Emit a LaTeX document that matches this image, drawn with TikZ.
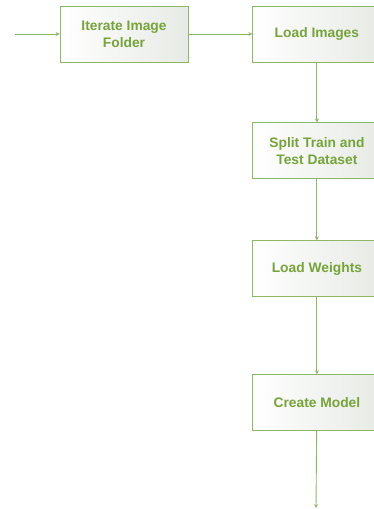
\documentclass[tikz,border=0pt]{standalone}
\usepackage{fontspec}
\setmainfont{Liberation Sans}
\usetikzlibrary{positioning, arrows.meta}
\definecolor{boxgreen}{RGB}{140,184,104}
\definecolor{textgreen}{RGB}{118,164,58}
\definecolor{fillgray}{RGB}{230,234,228}

\begin{document}
\begin{tikzpicture}[
        x=1pt, y=-1pt,
        block/.style={rectangle, draw=boxgreen, line width=0.9pt, left color=white, right color=fillgray, minimum width=128pt, minimum height=56pt, align=center, text=textgreen, font=\fontsize{13.8}{17}\selectfont\bfseries},
        signal/.style={-{Stealth[length=4pt, width=4pt]}, boxgreen, line width=0.9pt}
    ]
        \useasboundingbox (0,0) rectangle (373,509);

        \node[block] (ITERATE) at (124,34) {Iterate Image\\Folder};
        \node[block, right=64pt of ITERATE] (LOAD) {Load Images};
        \node[block, below=60pt of LOAD] (SPLIT) {Split Train and\\Test Dataset};
        \node[block, below=61pt of SPLIT] (WEIGHTS) {Load Weights};
        \node[block, below=77pt of WEIGHTS] (MODEL) {Create Model};

        \coordinate (START) at (15,34);
        \coordinate (END) at (316,508);

        \draw[signal] (START) -- (ITERATE);
        \draw[signal] (ITERATE) -- (LOAD);
        \draw[signal] (LOAD) -- (SPLIT);
        \draw[signal] (SPLIT) -- (WEIGHTS);
        \draw[signal] (WEIGHTS) -- (MODEL);
        \draw[signal] (MODEL) -- (END);
    \end{tikzpicture}
\end{document}
